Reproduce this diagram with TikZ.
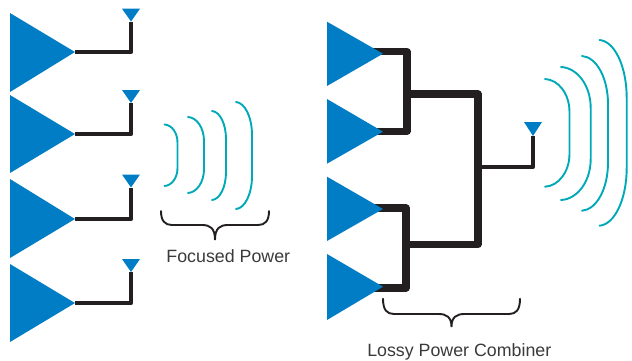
\documentclass[tikz,border=0pt]{standalone}
\usepackage{fontspec}
\setmainfont{Liberation Sans}
\definecolor{ampblue}{HTML}{007DC5}
\definecolor{wavecol}{HTML}{00A9B7}
\definecolor{wirecol}{HTML}{231F20}
\definecolor{txtcol}{HTML}{3A3A3C}
\tikzset{
  ampfill/.style={fill=ampblue,draw=none},
  wire/.style={draw=wirecol,line width=4.4pt,line join=round},
  fatwire/.style={draw=wirecol,line width=7.2pt,line join=round},
  wave/.style={draw=wavecol,line width=1.9pt,line cap=round},
  bracecurve/.style={draw=wirecol,line width=1.9pt,line cap=round},
  lbl/.style={text=txtcol,font=\fontsize{17.8}{20}\selectfont,inner sep=0pt}
}
% apex-named amplifier: name, left x, top y, bottom y, apex x, apex y
\newcommand{\ampl}[6]{%
  \fill[ampfill] (#2,#3) -- (#5,#6) -- (#2,#4) -- cycle;
  \coordinate (#1) at (#5,#6);}
% antenna: name, apex x, top y, apex y
\newcommand{\anten}[4]{%
  \fill[ampfill] (#2-9,#3) -- (#2+9,#3) -- (#2,#4) -- cycle;
  \coordinate (#1) at (#2,#4);}
% wave: x start, x extreme, y top, y bottom, curve height
\newcommand{\wavearc}[5]{%
  \draw[wave] (#1,#3) .. controls ({#1+0.55*(#2-#1)},{#3+0.02*#5}) and (#2,{#3+0.45*#5}) .. (#2,{#3+#5})
    -- (#2,{#4-#5}) .. controls (#2,{#4-0.45*#5}) and ({#1+0.55*(#2-#1)},{#4-0.02*#5}) .. (#1,#4);}
% brace: x left, x right, x centre, y top, y bar, y tip
\newcommand{\bracket}[6]{%
  \draw[bracecurve] (#1,#4) .. controls (#1,{#5-4}) and ({#1+4},#5) .. ({#1+11},#5)
    -- ({#3-13},#5) .. controls ({#3-5},#5) and (#3,{#5+3}) .. (#3,#6)
    .. controls (#3,{#5+3}) and ({#3+5},#5) .. ({#3+13},#5)
    -- ({#2-11},#5) .. controls ({#2-4},#5) and (#2,{#5-4}) .. (#2,#4);}
\begin{document}
\begin{tikzpicture}[x=1pt,y=-1pt]
\useasboundingbox (0,0) rectangle (632,360);
% left amplifiers and antennas
\ampl{a1}{10}{13}{92}{75}{52}
\ampl{a2}{10}{95}{173}{75}{134}
\ampl{a3}{10}{179}{258}{75}{219}
\ampl{a4}{10}{264}{342}{75}{303}
\anten{t1}{131}{8.7}{21.5}
\anten{t2}{131}{90}{103}
\anten{t3}{131}{174.5}{187.5}
\anten{t4}{131}{259}{272}
\draw[wire] (a1) -| (t1);
\draw[wire] (a2) -| (t2);
\draw[wire] (a3) -| (t3);
\draw[wire] (a4) -| (t4);
% left waves
\wavearc{164.5}{177.5}{124.5}{186}{18}
\wavearc{188}{204}{117}{193}{24}
\wavearc{212}{226}{111}{200}{28}
\wavearc{236}{252}{102}{209}{33}
\bracket{161}{269}{215}{211}{225}{240}
\node[lbl] (focused) at (228.3,256) {Focused Power};
% right antenna
\anten{t5}{533}{122}{136}
% combiner
\coordinate (c1) at (372,51.7);
\coordinate (c2) at (372,131.3);
\coordinate (c3) at (372,208);
\coordinate (c4) at (372,288);
\coordinate (j1) at (407,94);
\coordinate (j2) at (406,244.5);
\coordinate (j3) at (478,166.7);
\draw[fatwire] (c1) -| (407,131.3) -- (c2);
\draw[fatwire] (c3) -| (406,288) -- (c4);
\draw[fatwire] (j1) -| (478,244.5) -- (j2);
\draw[wire] (j3) -| (t5);
% right amplifiers, over the ends of the wires
\ampl{b1}{327}{21.7}{86}{383}{53.7}
\ampl{b2}{327}{99}{163.7}{383}{131.7}
\ampl{b3}{327}{176.7}{241}{383}{209}
\ampl{b4}{327}{254}{320}{383}{286.7}
% right waves
\wavearc{545}{569.5}{79}{186.7}{33}
\wavearc{561}{590.7}{67}{200}{41}
\wavearc{582}{608}{56}{210.7}{48}
\wavearc{599.5}{626.7}{40}{225.7}{58}
\bracket{383}{520}{451.5}{298.7}{314}{327}
\node[lbl] (lossy) at (459.3,351.5) {Lossy Power Combiner};
\end{tikzpicture}
\end{document}
